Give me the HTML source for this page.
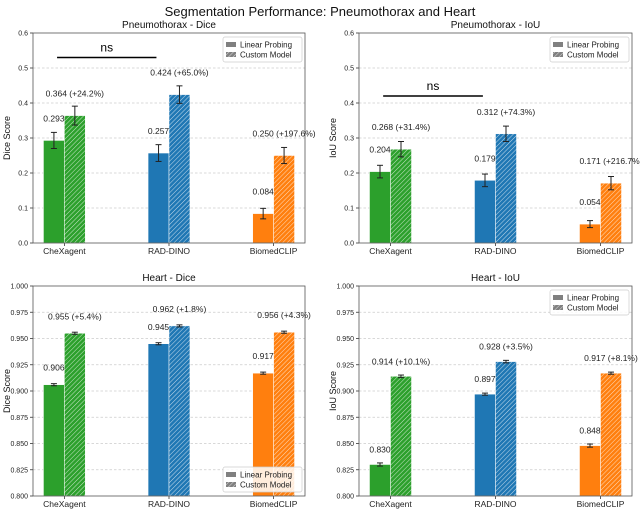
<!DOCTYPE html>
<html><head><meta charset="utf-8">
<style>
html,body{margin:0;padding:0;background:#fff;width:640px;height:509px;overflow:hidden}
svg{display:block;font-family:"Liberation Sans","DejaVu Sans",sans-serif}
</style></head>
<body>
<svg id="chart" width="640" height="509" viewBox="0 0 640 509" xmlns="http://www.w3.org/2000/svg">
<defs>
<pattern id="hatch" patternUnits="userSpaceOnUse" width="3.2" height="3.2" patternTransform="rotate(45)">
<line x1="0" y1="0" x2="0" y2="3.2" stroke="rgba(255,255,255,0.75)" stroke-width="1"/>
</pattern>
</defs>
<text x="320" y="16" text-anchor="middle" font-size="13" fill="#111">Segmentation Performance: Pneumothorax and Heart</text>
</svg>
<script>
const categories = ["CheXagent", "RAD-DINO", "BiomedCLIP"];
const colors = ["#2ca02c", "#1f77b4", "#ff7f0e"];
const ptxDiceLinear = [0.293, 0.257, 0.084];
const ptxDiceCustom = [0.364, 0.424, 0.250];
const ptxDiceLinearErr = [0.023, 0.024, 0.015];
const ptxDiceCustomErr = [0.027, 0.025, 0.023];
const ptxDicePct = ["+24.2%", "+65.0%", "+197.6%"];
const ptxIouLinear = [0.204, 0.179, 0.054];
const ptxIouCustom = [0.268, 0.312, 0.171];
const ptxIouLinearErr = [0.018, 0.018, 0.010];
const ptxIouCustomErr = [0.022, 0.022, 0.019];
const ptxIouPct = ["+31.4%", "+74.3%", "+216.7%"];
const heartDiceLinear = [0.906, 0.945, 0.917];
const heartDiceCustom = [0.955, 0.962, 0.956];
const heartDiceLinearErr = [0.001, 0.001, 0.001];
const heartDiceCustomErr = [0.001, 0.001, 0.001];
const heartDicePct = ["+5.4%", "+1.8%", "+4.3%"];
const heartIouLinear = [0.830, 0.897, 0.848];
const heartIouCustom = [0.914, 0.928, 0.917];
const heartIouLinearErr = [0.0015, 0.001, 0.0015];
const heartIouCustomErr = [0.0012, 0.0012, 0.001];
const heartIouPct = ["+10.1%", "+3.5%", "+8.1%"];
const ptxTicks = [0.0, 0.1, 0.2, 0.3, 0.4, 0.5, 0.6];
const heartTicks = [0.800, 0.825, 0.850, 0.875, 0.900, 0.925, 0.950, 0.975, 1.000];

const NS = "http://www.w3.org/2000/svg";
const svg = document.getElementById("chart");
function mk(tag, attrs, parent) {
  const e = document.createElementNS(NS, tag);
  for (const k in attrs) e.setAttribute(k, attrs[k]);
  (parent || svg).appendChild(e);
  return e;
}

function panel(cfg) {
  const g = mk("g", {});
  
  
  const {x0, x1, y0, y1, ymin, ymax} = cfg;
  const xs = v => x0 + (v + 0.3) / 2.6 * (x1 - x0);
  const ys = v => y1 - (v - ymin) / (ymax - ymin) * (y1 - y0);
  const bw = 0.2 / 2.6 * (x1 - x0);
  cfg.ticks.forEach(t => {
    const y = ys(t);
    if (t > ymin && t < ymax) {
      const gl = mk("line", {x1: x0, x2: x1, y1: y, y2: y, stroke: "#ccc", "stroke-width": 0.7, "stroke-dasharray": "2.5,2"}, g);
      
      
    }
    mk("line", {x1: x0 - 3, x2: x0, y1: y, y2: y, stroke: "#333", "stroke-width": 0.8}, g);
    const tl = mk("text", {x: x0 - 5, y: y + 2.5, "text-anchor": "end", "font-size": 7, fill: "#222"}, g);
    tl.textContent = t.toFixed(cfg.dec);
    
    
  });
  categories.forEach((c, i) => {
    const lx = xs(i - 0.1), cx = xs(i + 0.1);
    const lv = cfg.lin[i], cv = cfg.cus[i];
    const b1 = mk("rect", {x: lx - bw / 2, y: ys(lv), width: bw, height: ys(ymin) - ys(lv), fill: colors[i], stroke: "#fff", "stroke-width": 0.5}, g);
    
    
    const b2 = mk("rect", {x: cx - bw / 2, y: ys(cv), width: bw, height: ys(ymin) - ys(cv), fill: colors[i], stroke: "#fff", "stroke-width": 0.5}, g);
    
    
    mk("rect", {x: cx - bw / 2, y: ys(cv), width: bw, height: ys(ymin) - ys(cv), fill: "url(#hatch)"}, g);
    [[lx, lv, cfg.linErr[i]], [cx, cv, cfg.cusErr[i]]].forEach(([x, v, e]) => {
      const eg = mk("g", {stroke: "#222", "stroke-width": 1}, g);
      
      
      mk("line", {x1: x, x2: x, y1: ys(v - e), y2: ys(v + e)}, eg);
      mk("line", {x1: x - 3, x2: x + 3, y1: ys(v - e), y2: ys(v - e)}, eg);
      mk("line", {x1: x - 3, x2: x + 3, y1: ys(v + e), y2: ys(v + e)}, eg);
    });
    const t1 = mk("text", {x: lx, y: ys(lv) - cfg.off + 3, "text-anchor": "middle", "font-size": 8.5, fill: "#222"}, g);
    t1.textContent = lv.toFixed(3);
    
    
    const t2 = mk("text", {x: cx, y: ys(cv) - cfg.off + 3, "text-anchor": "middle", "font-size": 8.5, fill: "#222"}, g);
    t2.textContent = cv.toFixed(3) + " (" + cfg.pct[i] + ")";
    
    
    mk("line", {x1: xs(i), x2: xs(i), y1: y1, y2: y1 + 3, stroke: "#333", "stroke-width": 0.8}, g);
    const xl = mk("text", {x: xs(i), y: y1 + 11, "text-anchor": "middle", "font-size": 8.5, fill: "#222"}, g);
    xl.textContent = c;
    
    
  });
  mk("rect", {x: x0, y: y0, width: x1 - x0, height: y1 - y0, fill: "none", stroke: "#555", "stroke-width": 0.8}, g);
  const ti = mk("text", {x: (x0 + x1) / 2, y: y0 - 5, "text-anchor": "middle", "font-size": 10, fill: "#111"}, g);
  ti.textContent = cfg.title;
  
  
  const yl = mk("text", {x: 0, y: 0, "text-anchor": "middle", "font-size": 9, fill: "#111", transform: `translate(${x0 - 23},${(y0 + y1) / 2}) rotate(-90)`}, g);
  yl.textContent = cfg.ylabel;
  
  
  if (cfg.ns !== undefined) {
    const nl = mk("line", {x1: xs(-0.07), x2: xs(0.88), y1: ys(cfg.ns), y2: ys(cfg.ns), stroke: "#000", "stroke-width": 1.5}, g);
    
    
    const nt = mk("text", {x: (xs(-0.07) + xs(0.88)) / 2, y: ys(cfg.ns) - 6, "text-anchor": "middle", "font-size": 12, fill: "#000"}, g);
    nt.textContent = "ns";
    
    
  }
  const ly = cfg.legendBottom ? y1 - 29 : y0 + 4;
  const lg = mk("g", {}, g);
  
  
  mk("rect", {x: x1 - 82, y: ly, width: 79, height: 25, fill: "#fff", "fill-opacity": 0.85, stroke: "#ccc", "stroke-width": 0.7, rx: 2}, lg);
  mk("rect", {x: x1 - 79, y: ly + 5, width: 10, height: 5, fill: "#808080"}, lg);
  mk("rect", {x: x1 - 79, y: ly + 15, width: 10, height: 5, fill: "#808080"}, lg);
  mk("rect", {x: x1 - 79, y: ly + 15, width: 10, height: 5, fill: "url(#hatch)"}, lg);
  const e1 = mk("text", {x: x1 - 65, y: ly + 10.5, "font-size": 8, fill: "#222"}, lg);
  e1.textContent = "Linear Probing";
  
  
  const e2 = mk("text", {x: x1 - 65, y: ly + 20.5, "font-size": 8, fill: "#222"}, lg);
  e2.textContent = "Custom Model";
  
  
}

panel({name: "pneumothorax-dice-panel", title: "Pneumothorax - Dice", ylabel: "Dice Score", x0: 33, x1: 305, y0: 33, y1: 243, ymin: 0, ymax: 0.6, ticks: ptxTicks, dec: 1, lin: ptxDiceLinear, cus: ptxDiceCustom, linErr: ptxDiceLinearErr, cusErr: ptxDiceCustomErr, pct: ptxDicePct, off: 22, ns: 0.53});
panel({name: "pneumothorax-iou-panel", title: "Pneumothorax - IoU", ylabel: "IoU Score", x0: 359, x1: 632, y0: 33, y1: 243, ymin: 0, ymax: 0.6, ticks: ptxTicks, dec: 1, lin: ptxIouLinear, cus: ptxIouCustom, linErr: ptxIouLinearErr, cusErr: ptxIouCustomErr, pct: ptxIouPct, off: 22, ns: 0.42});
panel({name: "heart-dice-panel", title: "Heart - Dice", ylabel: "Dice Score", x0: 33, x1: 305, y0: 286, y1: 496, ymin: 0.8, ymax: 1.0, ticks: heartTicks, dec: 3, lin: heartDiceLinear, cus: heartDiceCustom, linErr: heartDiceLinearErr, cusErr: heartDiceCustomErr, pct: heartDicePct, off: 17, legendBottom: true});
panel({name: "heart-iou-panel", title: "Heart - IoU", ylabel: "IoU Score", x0: 359, x1: 632, y0: 286, y1: 496, ymin: 0.8, ymax: 1.0, ticks: heartTicks, dec: 3, lin: heartIouLinear, cus: heartIouCustom, linErr: heartIouLinearErr, cusErr: heartIouCustomErr, pct: heartIouPct, off: 15});
</script>
</body></html>
